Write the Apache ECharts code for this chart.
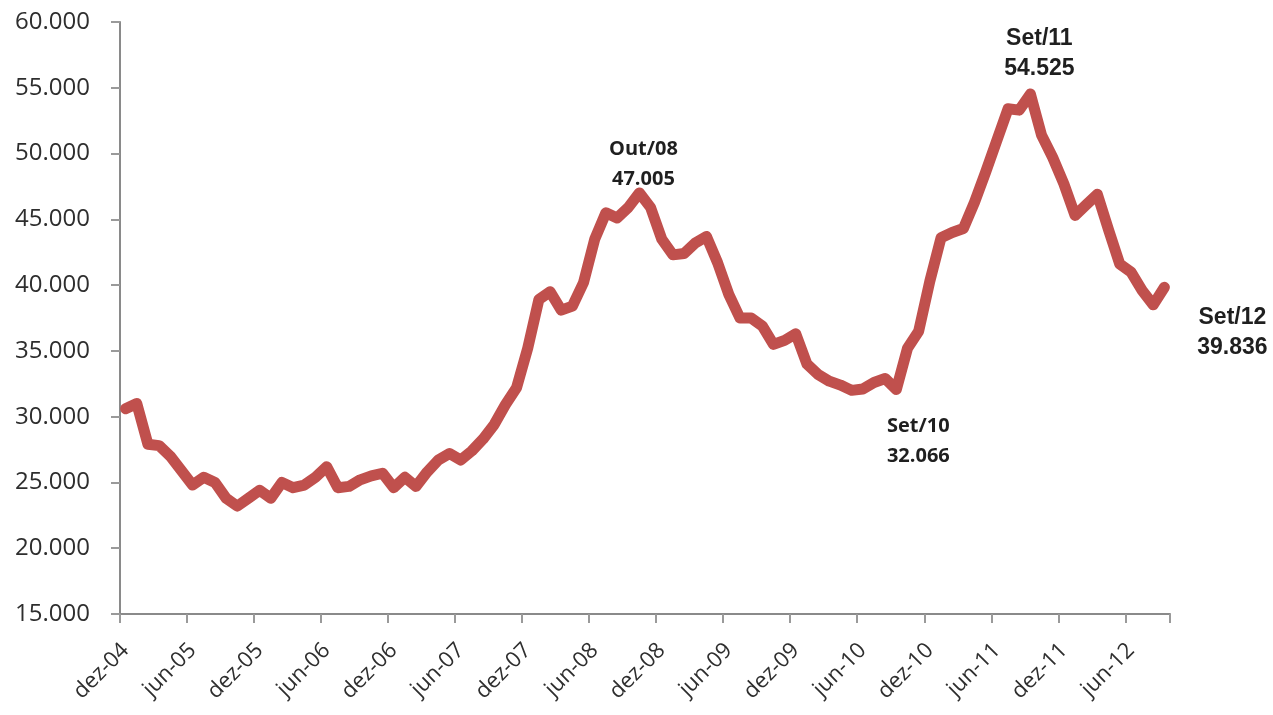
<!DOCTYPE html>
<html>
<head>
<meta charset="utf-8">
<script src="https://cdn.jsdelivr.net/npm/echarts@6/dist/echarts.min.js"></script>
<style>
  html, body { margin: 0; padding: 0; background: #ffffff; }
  #chart { width: 1273px; height: 715px; }
</style>
</head>
<body>
<div id="chart"></div>
<script>
// Months from dez-04 to set-12
const categories = [
  'dez-04',
  'jan-05','fev-05','mar-05','abr-05','mai-05','jun-05','jul-05','ago-05','set-05','out-05','nov-05','dez-05',
  'jan-06','fev-06','mar-06','abr-06','mai-06','jun-06','jul-06','ago-06','set-06','out-06','nov-06','dez-06',
  'jan-07','fev-07','mar-07','abr-07','mai-07','jun-07','jul-07','ago-07','set-07','out-07','nov-07','dez-07',
  'jan-08','fev-08','mar-08','abr-08','mai-08','jun-08','jul-08','ago-08','set-08','out-08','nov-08','dez-08',
  'jan-09','fev-09','mar-09','abr-09','mai-09','jun-09','jul-09','ago-09','set-09','out-09','nov-09','dez-09',
  'jan-10','fev-10','mar-10','abr-10','mai-10','jun-10','jul-10','ago-10','set-10','out-10','nov-10','dez-10',
  'jan-11','fev-11','mar-11','abr-11','mai-11','jun-11','jul-11','ago-11','set-11','out-11','nov-11','dez-11',
  'jan-12','fev-12','mar-12','abr-12','mai-12','jun-12','jul-12','ago-12','set-12'
];

const values = [
  30600,
  31000, 27900, 27800, 27000, 25900, 24800, 25400, 25000, 23800, 23200, 23800, 24400,
  23800, 25000, 24600, 24800, 25400, 26200, 24600, 24700, 25200, 25500, 25700, 24600,
  25400, 24700, 25800, 26700, 27200, 26700, 27400, 28300, 29400, 30900, 32200, 35200,
  38900, 39500, 38100, 38400, 40200, 43500, 45500, 45100, 45900, 47005, 45900, 43500,
  42300, 42400, 43200, 43700, 41700, 39300, 37500, 37500, 36900, 35500, 35800, 36300,
  34000, 33200, 32700, 32400, 32000, 32100, 32600, 32900, 32066, 35200, 36500, 40300,
  43600, 44000, 44300, 46300, 48600, 51000, 53400, 53300, 54525, 51400, 49700, 47700,
  45300, 46100, 46900, 44200, 41600, 41000, 39600, 38500, 39836
];

// Annotated points
const annotIndex = [46, 69, 81, 93];
const annotText = ['Out/08', 'Set/10', 'Set/11', 'Set/12'];

const yTicks = { min: 15000, max: 60000, interval: 5000 };

function fmt(v) {
  return String(Math.round(v)).replace(/\B(?=(\d{3})+(?!\d))/g, '.');
}

const annotOffsets = [[4, -29], [22, 52], [9, -40], [68, 45]];
const annotFonts = [
  { fontFamily: 'Open Sans', fontSize: 20 },
  { fontFamily: 'Open Sans', fontSize: 20 },
  { fontFamily: 'Liberation Sans', fontSize: 23 },
  { fontFamily: 'Liberation Sans', fontSize: 23 }
];

const chart = echarts.init(document.getElementById('chart'));
chart.setOption({
  animation: false,
  backgroundColor: '#ffffff',
  grid: { left: 120, right: 103, top: 22, bottom: 101, containLabel: false },
  xAxis: {
    type: 'category',
    data: categories,
    boundaryGap: true,
    axisLine: { show: true, lineStyle: { color: '#8a8a8a', width: 2 } },
    axisTick: { show: true, interval: function (i) { return i % 6 === 0; }, length: 9, lineStyle: { color: '#9a9a9a', width: 2 } },
    axisLabel: {
      interval: 5,
      rotate: 45,
      margin: 33,
      color: '#2e2e2e',
      fontFamily: 'Open Sans',
      fontSize: 22
    },
    splitLine: { show: false }
  },
  yAxis: {
    type: 'value',
    min: yTicks.min,
    max: yTicks.max,
    interval: yTicks.interval,
    axisLine: { show: true, lineStyle: { color: '#8a8a8a', width: 2 } },
    axisTick: { show: true, length: 9, lineStyle: { color: '#9a9a9a', width: 2 } },
    axisLabel: {
      margin: 30,
      color: '#2e2e2e',
      fontFamily: 'Open Sans',
      fontSize: 24,
      formatter: fmt
    },
    splitLine: { show: false }
  },
  series: [{
    type: 'line',
    data: values,
    showSymbol: false,
    symbol: 'none',
    lineStyle: { color: '#c0504d', width: 11, join: 'round', cap: 'round' },
    markPoint: {
      symbol: 'circle',
      symbolSize: 0,
      silent: true,
      data: annotIndex.map((idx, k) => ({
        coord: [idx, values[idx]],
        value: values[idx],
        label: {
          show: true,
          position: 'inside',
          offset: annotOffsets[k],
          formatter: annotText[k] + '\n' + fmt(values[idx]),
          fontFamily: annotFonts[k].fontFamily,
          fontWeight: 'bold',
          fontSize: annotFonts[k].fontSize,
          lineHeight: 30,
          color: '#1f1f1f',
          align: 'center'
        }
      }))
    }
  }]
});
</script>
</body>
</html>
